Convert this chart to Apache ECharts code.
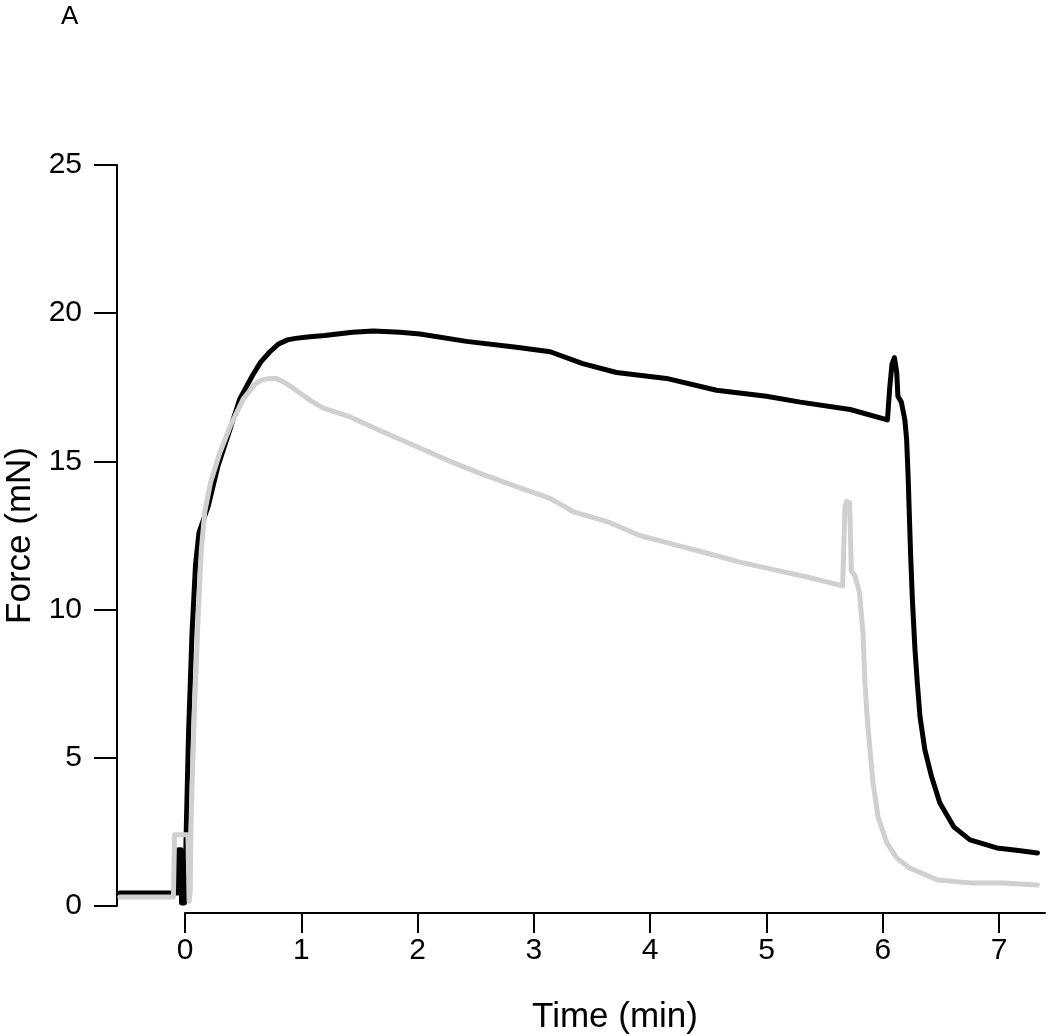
<!DOCTYPE html>
<html>
<head>
<meta charset="utf-8">
<script src="https://cdn.jsdelivr.net/npm/echarts@6/dist/echarts.min.js"></script>
<style>
html,body{margin:0;padding:0;background:#fff;}
#chart{width:1050px;height:1036px;}
</style>
</head>
<body>
<div id="chart"></div>
<script>
// Black trace (time in min, force in mN)
var blackTime  = [-0.56,-0.12,-0.06,-0.055,-0.035,-0.03,-0.005,0.005,0.01,0.03,0.06,0.09,0.12,0.20,0.28,0.38,0.47,0.58,0.65,0.73,0.80,0.88,0.95,1.05,1.2,1.44,1.62,1.85,2.02,2.42,2.85,3.14,3.42,3.71,4.14,4.57,5.0,5.29,5.72,6.04,6.06,6.08,6.10,6.12,6.13,6.16,6.19,6.205,6.218,6.23,6.24,6.255,6.277,6.297,6.32,6.362,6.42,6.49,6.61,6.75,6.98,7.15,7.33];
var blackForce = [0.44,0.44,0.44,1.9,1.9,0.1,0.1,1.5,2.5,5.8,9.2,11.5,12.6,13.5,14.8,16.0,17.1,17.9,18.35,18.7,18.95,19.1,19.15,19.2,19.25,19.36,19.4,19.36,19.3,19.05,18.85,18.7,18.3,18.0,17.8,17.4,17.2,17.0,16.75,16.4,17.5,18.3,18.5,18.0,17.2,17.0,16.4,15.74,14.5,13.0,11.8,10.3,8.65,7.53,6.39,5.27,4.36,3.48,2.67,2.23,1.96,1.88,1.79];
// Grey trace
var greyTime  = [-0.56,-0.10,-0.09,0.025,0.035,0.045,0.05,0.06,0.08,0.11,0.14,0.17,0.22,0.30,0.39,0.50,0.60,0.66,0.73,0.78,0.84,0.90,0.99,1.08,1.19,1.42,1.70,1.99,2.28,2.56,2.85,3.14,3.34,3.63,3.91,4.2,4.49,4.77,5.06,5.35,5.655,5.675,5.69,5.715,5.73,5.76,5.80,5.83,5.847,5.865,5.89,5.916,5.96,6.035,6.12,6.23,6.47,6.75,7.03,7.33];
var greyForce = [0.3,0.3,2.4,2.4,0.15,0.5,2.5,4.0,6.5,9.5,12.0,13.3,14.3,15.3,16.2,17.1,17.6,17.75,17.8,17.8,17.7,17.55,17.3,17.05,16.8,16.5,16.0,15.5,15.0,14.56,14.15,13.75,13.3,12.97,12.5,12.2,11.9,11.6,11.35,11.1,10.8,13.5,13.65,13.6,11.3,11.15,10.57,9.2,7.53,6.4,5.27,4.15,3.0,2.13,1.62,1.28,0.88,0.78,0.78,0.71];
var yTicks = [0,5,10,15,20,25];
var xTicks = [0,1,2,3,4,5,6,7];

function pairs(t, f){ return t.map(function(v,i){ return [v, f[i]]; }); }

var FONT = '"Liberation Sans", Arial, Helvetica, sans-serif';
var chart = echarts.init(document.getElementById('chart'), null, {renderer:'canvas'});
chart.setOption({
  backgroundColor:'#fff',
  animation:false,
  textStyle:{fontFamily:FONT},
  graphic:[{type:'text', left:61, top:4, style:{text:'A', font:'normal 26px "Liberation Sans", Arial, sans-serif', fill:'#000'}}],
  grid:[
    {left:117, right:5, top:165, bottom:130, containLabel:false, outerBoundsMode:'none'},
    {left:185, right:5, top:165, bottom:130, containLabel:false, outerBoundsMode:'none'}
  ],
  xAxis:[
    {gridIndex:0, type:'value', min:-0.585, max:7.395, show:false,
     axisLine:{show:false, onZero:false}},
    {gridIndex:1, type:'value', min:0, max:7.395, interval:1, offset:7,
     axisLine:{show:true, onZero:false, lineStyle:{color:'#000', width:2}},
     axisTick:{show:true, inside:false, length:20, lineStyle:{color:'#000', width:2}},
     axisLabel:{show:true, color:'#000', fontSize:30, margin:23, fontFamily:FONT,
       showMaxLabel:false,
       formatter:function(v){ return xTicks.indexOf(Math.round(v))>=0 && Math.abs(v-Math.round(v))<1e-6 ? String(Math.round(v)) : ''; }},
     splitLine:{show:false},
     name:'Time (min)', nameLocation:'middle', nameGap:87,
     nameTextStyle:{color:'#000', fontSize:35, fontFamily:FONT}}
  ],
  yAxis:[
    {gridIndex:0, type:'value', min:yTicks[0], max:yTicks[yTicks.length-1], interval:5,
     axisLine:{show:true, onZero:false, lineStyle:{color:'#000', width:2}},
     axisTick:{show:true, inside:false, length:23, lineStyle:{color:'#000', width:2}},
     axisLabel:{show:true, color:'#000', fontSize:30, margin:35, fontFamily:FONT},
     splitLine:{show:false},
     name:'Force (mN)', nameLocation:'middle', nameGap:76,
     nameTextStyle:{color:'#000', fontSize:35, fontFamily:FONT}},
    {gridIndex:1, type:'value', min:0, max:25, show:false, axisLine:{show:false, onZero:false}}
  ],
  series:[
    {type:'line', xAxisIndex:0, yAxisIndex:0, data:pairs(blackTime, blackForce),
     showSymbol:false, symbol:'none', smooth:false, clip:false,
     lineStyle:{color:'#000', width:5, join:'round', cap:'round'}},
    {type:'line', xAxisIndex:0, yAxisIndex:0, data:pairs(greyTime, greyForce),
     showSymbol:false, symbol:'none', smooth:false, clip:false,
     lineStyle:{color:'#d0d0d0', width:5, join:'round', cap:'round'}}
  ]
});
</script>
</body>
</html>
